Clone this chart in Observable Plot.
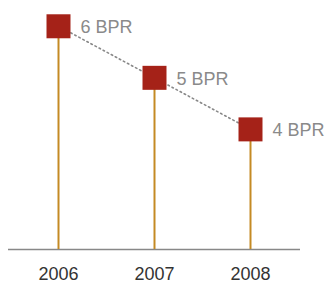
<!DOCTYPE html>
<html><head><meta charset="utf-8">
<script src="https://cdn.jsdelivr.net/npm/d3@7"></script>
<script src="https://cdn.jsdelivr.net/npm/@observablehq/plot@0.6"></script>
<style>body{margin:0;background:#fff;} svg{display:block;}</style>
</head><body>
<div id="chart"></div>
<script>
const years = ["2006", "2007", "2008"];
const values = [6, 5, 4];
const labels = ["6 BPR", "5 BPR", "4 BPR"];

const data = years.map((y, i) => ({year: y, value: values[i], label: labels[i]}));
const yMin = 1.67;

const chart = Plot.plot({
  width: 326,
  height: 283,
  marginLeft: 8,
  marginRight: 26,
  marginTop: 0,
  marginBottom: 34,
  style: {fontFamily: "Liberation Sans, Arial, sans-serif", background: "#fff"},
  x: {type: "point", domain: years, padding: 0.52},
  y: {domain: [yMin, 6.5], axis: null},
  marks: [
    Plot.axisX({tickSize: 0, tickPadding: 18, fontSize: 18, color: "#333", label: null}),
    Plot.ruleY([yMin], {stroke: "#888", strokeWidth: 1.3}),
    Plot.ruleX(data, {x: "year", y1: yMin, y2: "value", stroke: "#c48a24", strokeWidth: 2}),
    Plot.line(data, {x: "year", y: "value", stroke: "#888", strokeWidth: 1.6, strokeDasharray: "1.6,3"}),
    Plot.dot(data, {x: "year", y: "value", symbol: "square", r: 13.54, fill: "#a52218", stroke: "none"}),
    Plot.text(data, {x: "year", y: "value", text: "label", textAnchor: "start", dx: 22, dy: 1, fontSize: 18, fill: "#8a8a8a"})
  ]
});
document.getElementById("chart").append(chart);
</script>
</body></html>
